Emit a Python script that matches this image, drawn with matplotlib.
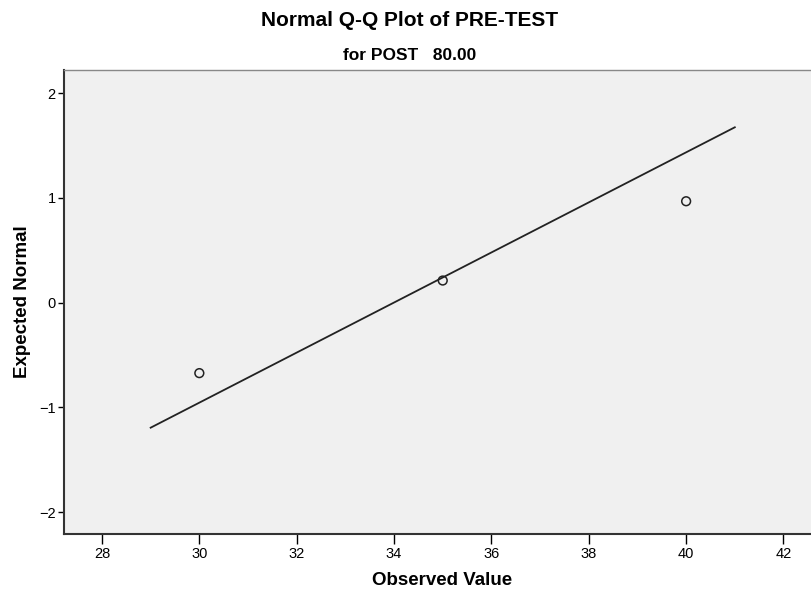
import matplotlib.pyplot as plt

observed = [30, 35, 40]
expected = [-0.674, 0.210, 0.967]

# reference line endpoints
line_x = [29, 41]
line_y = [-1.195, 1.673]

x_ticks = [28, 30, 32, 34, 36, 38, 40, 42]
y_ticks = [-2, -1, 0, 1, 2]

title = "Normal Q-Q Plot of PRE-TEST"
subtitle = "for POST   80.00"

plt.rcParams['font.family'] = ['Liberation Sans', 'DejaVu Sans']

fig = plt.figure(figsize=(8.12, 5.90), dpi=100)
ax = fig.add_axes([64 / 812, 1 - 534 / 590, (820 - 64) / 812, (534 - 70) / 590])
ax.set_facecolor('#f0f0f0')

ax.plot(line_x, line_y, color='#222222', linewidth=1.3)
ax.scatter(observed, expected, s=40, facecolors='none', edgecolors='#222222',
           linewidths=1.1, zorder=3)

ax.set_xlim(27.22, 42.75)
ax.set_ylim(-2.21, 2.22)
ax.set_xticks(x_ticks)
ax.set_yticks(y_ticks)
ax.tick_params(axis='x', direction='out', length=7, width=1, labelsize=10.5, pad=2)
ax.tick_params(axis='y', direction='out', length=4, width=1, labelsize=10.5, pad=2)

ax.spines['left'].set_color('#333333')
ax.spines['left'].set_linewidth(1.5)
ax.spines['bottom'].set_color('#333333')
ax.spines['bottom'].set_linewidth(1.5)
ax.spines['top'].set_color('#888888')
ax.spines['top'].set_linewidth(1)
ax.spines['right'].set_visible(False)

ax.set_xlabel("Observed Value", fontsize=13.5, fontweight='bold', labelpad=8)
ax.set_ylabel("Expected Normal", fontsize=13.5, fontweight='bold', labelpad=6)

fig.text(410 / 812, 1 - 20 / 590, title, ha='center', va='center',
         fontsize=15, fontweight='bold')
fig.text(410 / 812, 1 - 56 / 590, subtitle, ha='center', va='center',
         fontsize=12.5, fontweight='bold')

fig.savefig('out.png', dpi=100)
